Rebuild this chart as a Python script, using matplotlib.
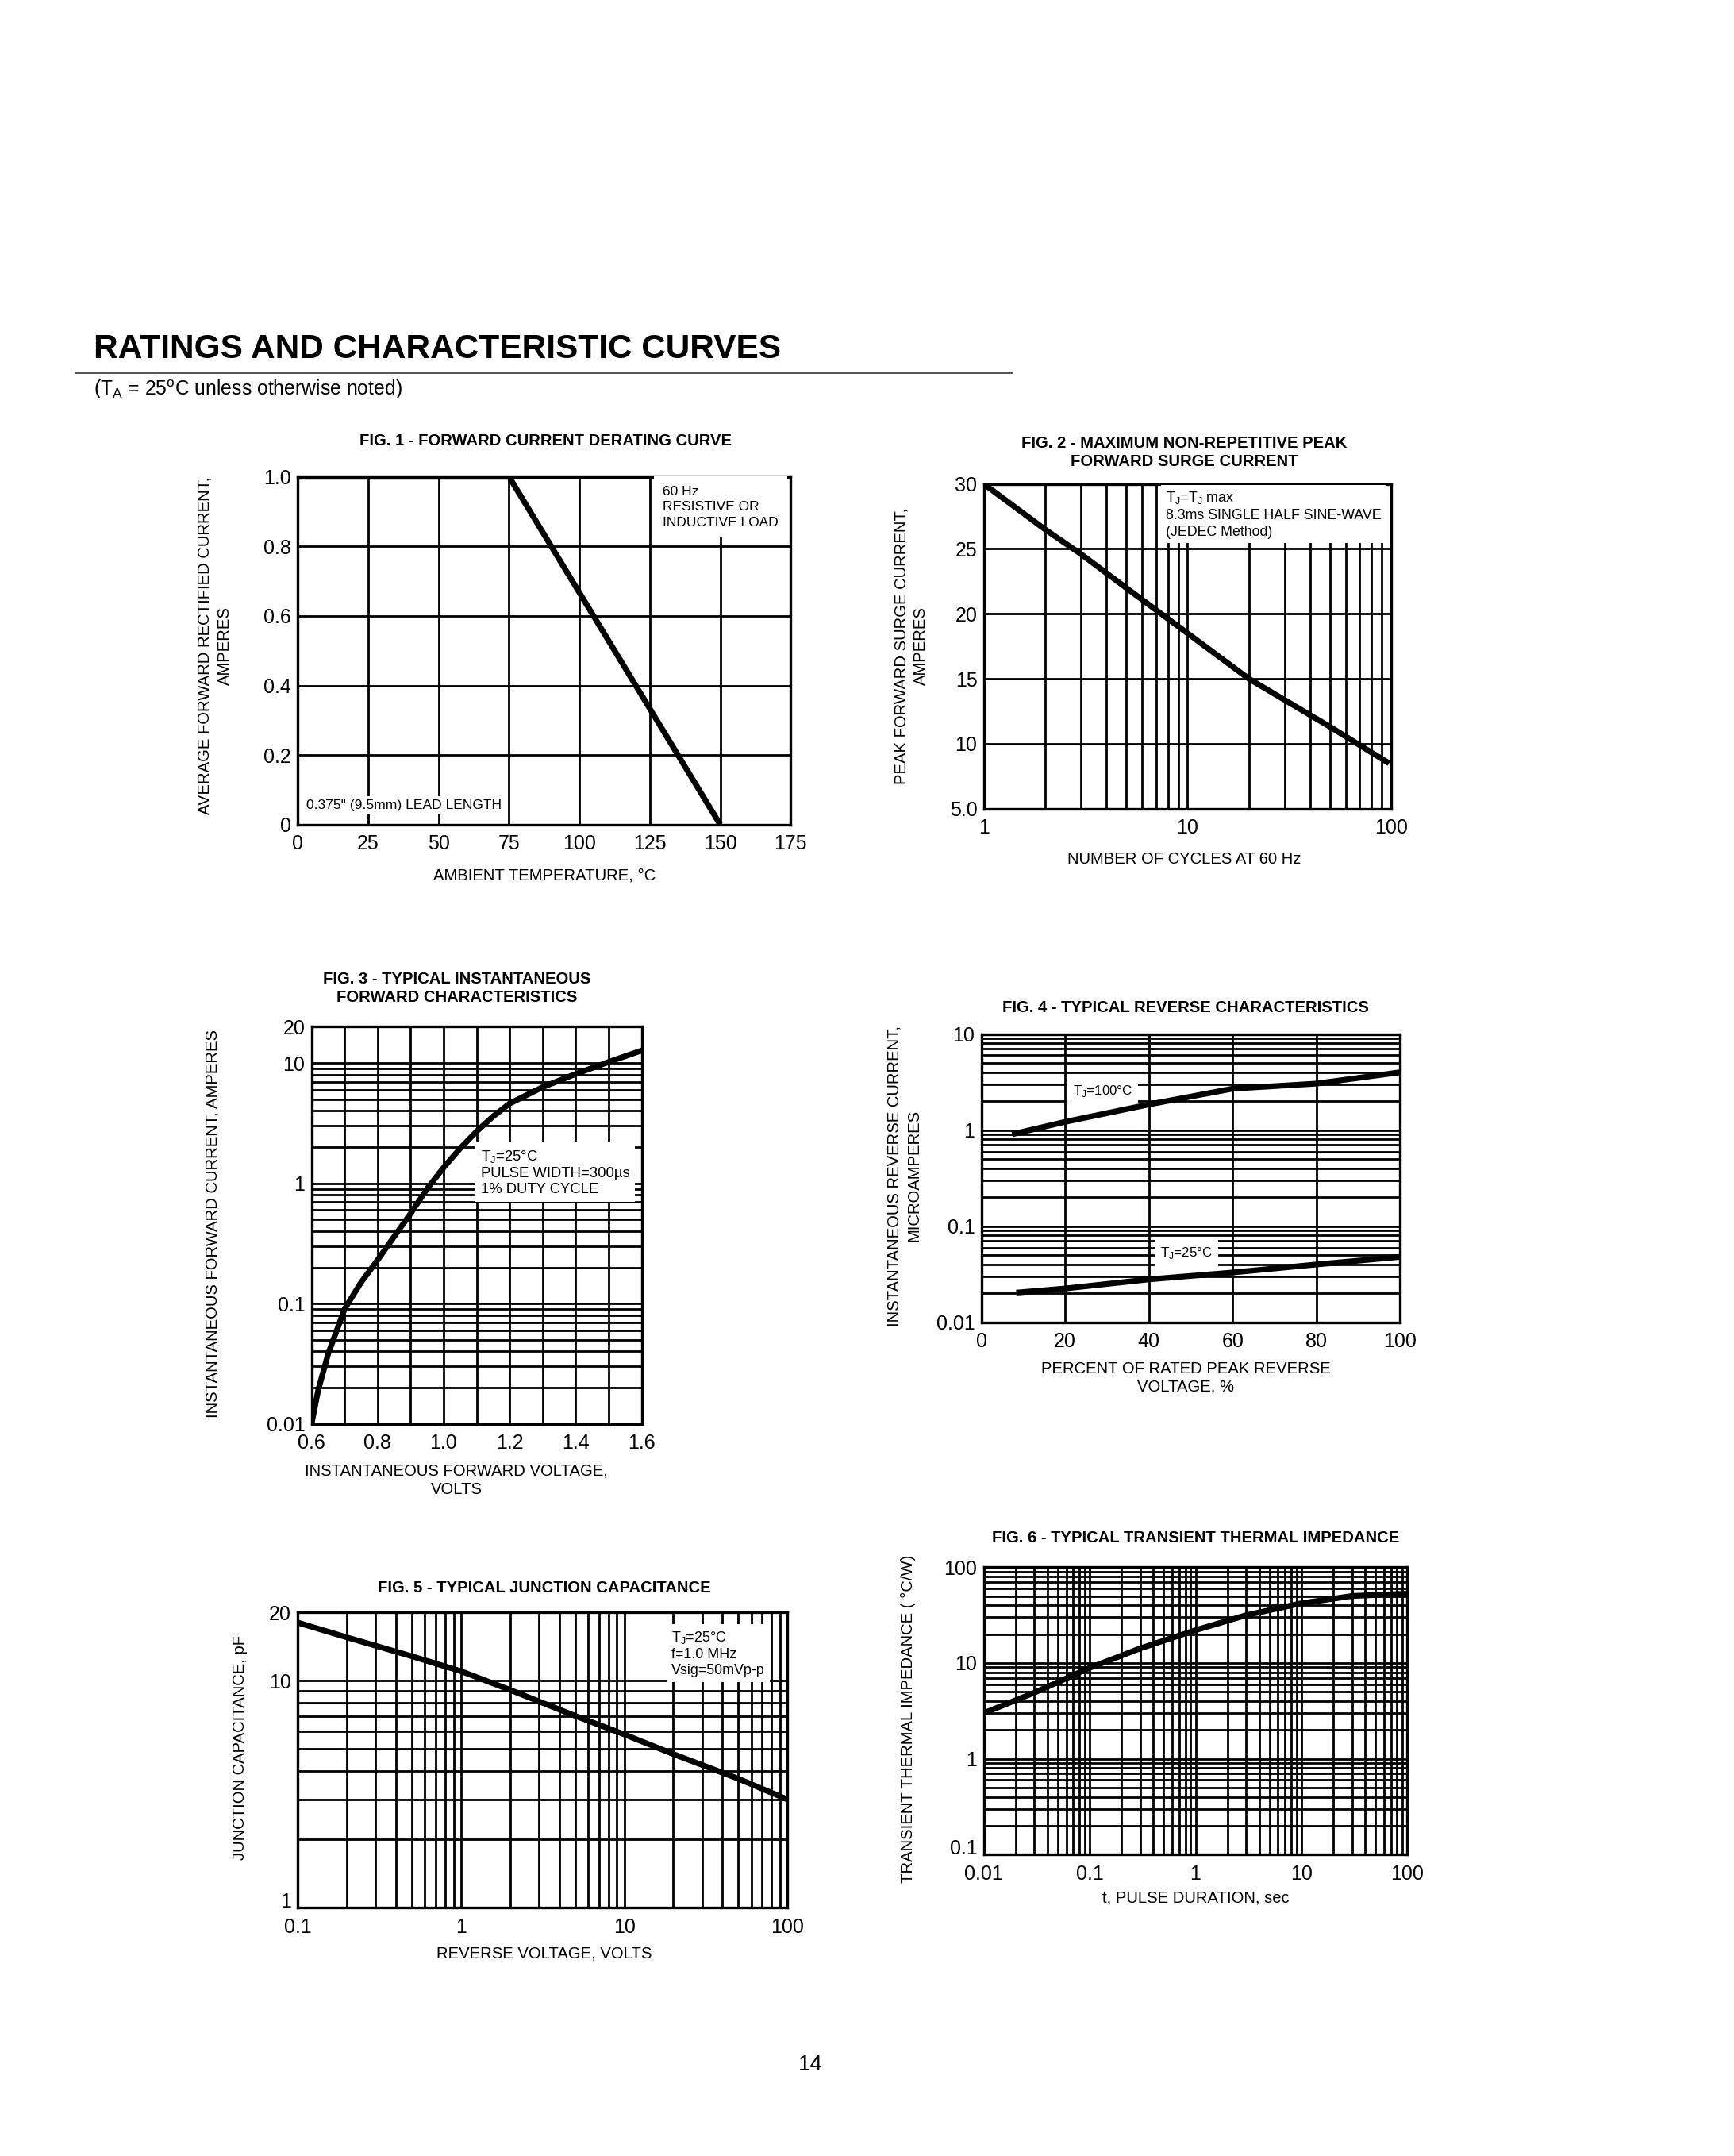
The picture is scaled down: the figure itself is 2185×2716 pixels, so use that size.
import matplotlib
matplotlib.use('Agg')
import matplotlib.pyplot as plt
from matplotlib.ticker import FixedLocator, NullFormatter

plt.rcParams['font.family'] = ['Liberation Sans', 'DejaVu Sans']
plt.rcParams['mathtext.fontset'] = 'custom'
plt.rcParams['mathtext.rm'] = 'Liberation Sans'

# ---- data ----
fig1_temp = [0, 75, 150]
fig1_current = [1.0, 1.0, 0.0]

fig2_cycles = [1, 2, 3, 5, 10, 20, 50, 95]
fig2_surge = [30, 26.5, 24.6, 22.0, 18.5, 15.0, 11.3, 8.6]

fig3_volts = [0.6, 0.62, 0.65, 0.7, 0.75, 0.8, 0.85, 0.9, 0.95, 1.0, 1.05, 1.1, 1.15, 1.2, 1.3, 1.4, 1.5, 1.6]
fig3_amps = [0.01, 0.019, 0.038, 0.09, 0.15, 0.23, 0.36, 0.56, 0.9, 1.35, 1.95, 2.7, 3.6, 4.6, 6.3, 8.1, 10.2, 12.7]

fig4_pct_100 = [8, 20, 40, 60, 80, 100]
fig4_ir_100 = [0.92, 1.22, 1.85, 2.7, 3.05, 4.0]
fig4_pct_25 = [9, 20, 40, 60, 80, 100]
fig4_ir_25 = [0.0205, 0.0225, 0.028, 0.033, 0.04, 0.048]

fig5_volts = [0.1, 0.2, 0.5, 1, 2, 5, 10, 20, 50, 100]
fig5_cap = [18.0, 15.5, 12.8, 11.0, 9.1, 7.0, 5.8, 4.75, 3.7, 3.0]

fig6_time = [0.01, 0.03, 0.1, 0.3, 1, 3, 10, 30, 100]
fig6_zth = [3.0, 4.9, 8.9, 14.2, 22, 31.5, 42, 50, 53]

W, H = 2185, 2716
S = 1.0145  # page layout scale
fig = plt.figure(figsize=(W / 100, H / 100), dpi=100)

def make_axes(l, t, r, b):
    l, t, r, b = l * S, t * S, r * S, b * S
    return fig.add_axes([l / W, 1 - b / H, (r - l) / W, (b - t) / H])

def ftext(x, y, s, **kw):
    fig.text(x * S / W, 1 - y * S / H, s, **kw)

def log_minors(lo_exp, hi_exp):
    out = []
    for e in range(lo_exp, hi_exp):
        for m in range(2, 10):
            out.append(m * 10.0 ** e)
    return out

TICK = 18
LAB = 14.6
CURVE = 5.2

def style(ax):
    for s in ax.spines.values():
        s.set_linewidth(2.4)
    ax.tick_params(which='both', length=0, labelsize=TICK)
    ax.tick_params(axis='x', pad=9)
    ax.tick_params(axis='y', pad=6)
    ax.grid(True, which='major', color='black', lw=2.0)
    ax.grid(True, which='minor', color='black', lw=2.0)

def raise_bottom_label(ax):
    ax.get_yticklabels()[0].set_verticalalignment('baseline')

def note_box(pad):
    return dict(facecolor='white', edgecolor='none', pad=pad)

sub_j = r'T$_\mathregular{J}$'

# ---- page header ----
ftext(116, 434, 'RATINGS AND CHARACTERISTIC CURVES', fontsize=30.5, fontweight='bold', va='center')
fig.add_artist(plt.Line2D([94 * S / W, 1258 * S / W], [1 - 463 * S / H, 1 - 463 * S / H], color='#444444', lw=1.3))
ftext(116, 484, r'(T$_\mathregular{A}$ = 25$^\mathregular{o}$C unless otherwise noted)', fontsize=17.8, va='center')
ftext(1007, 2564, '14', fontsize=20, ha='center', va='center')

# ---- FIG 1 ----
ax1 = make_axes(370, 592, 982, 1024)
ax1.plot(fig1_temp, fig1_current, color='black', lw=CURVE, solid_capstyle='butt', zorder=4)
ax1.set_xlim(0, 175)
ax1.set_ylim(0, 1.0)
ax1.set_xticks([0, 25, 50, 75, 100, 125, 150, 175])
ax1.set_yticks([0, 0.2, 0.4, 0.6, 0.8, 1.0])
ax1.set_yticklabels(['0', '0.2', '0.4', '0.6', '0.8', '1.0'])
style(ax1)
ax1.text(129.5, 0.975, '60 Hz\nRESISTIVE OR\nINDUCTIVE LOAD', fontsize=12.5, va='top', ha='left',
         linespacing=1.4, bbox=note_box(8), zorder=3)
ax1.text(3, 0.055, '0.375" (9.5mm) LEAD LENGTH', fontsize=12.6, va='center', ha='left', bbox=note_box(3), zorder=3)
ftext(678, 548, 'FIG. 1 - FORWARD CURRENT DERATING CURVE', fontsize=LAB, fontweight='bold', ha='center', va='center')
ftext(676, 1087, 'AMBIENT TEMPERATURE, °C', fontsize=LAB, ha='center', va='center')
ftext(267, 802, 'AVERAGE FORWARD RECTIFIED CURRENT,\nAMPERES', fontsize=LAB, ha='center', va='center',
      rotation=90, multialignment='center', linespacing=1.45)

# ---- FIG 2 ----
ax2 = make_axes(1222, 601, 1728, 1004)
ax2.plot(fig2_cycles, fig2_surge, color='black', lw=CURVE, zorder=4)
ax2.set_xscale('log')
ax2.set_xlim(1, 100)
ax2.set_ylim(5, 30)
ax2.set_xticks([1, 10, 100])
ax2.set_xticklabels(['1', '10', '100'])
ax2.xaxis.set_minor_locator(FixedLocator(log_minors(0, 2)))
ax2.xaxis.set_minor_formatter(NullFormatter())
ax2.set_yticks([5, 10, 15, 20, 25, 30])
ax2.set_yticklabels(['5.0', '10', '15', '20', '25', '30'])
style(ax2)
ax2.text(7.8, 29.55, sub_j + '=' + sub_j + ' max\n8.3ms SINGLE HALF SINE-WAVE\n(JEDEC Method)', fontsize=12.8,
         va='top', ha='left', linespacing=1.3, bbox=note_box(4), zorder=3)
ftext(1471, 562, 'FIG. 2 - MAXIMUM NON-REPETITIVE PEAK\nFORWARD SURGE CURRENT', fontsize=LAB, fontweight='bold',
      ha='center', va='center', multialignment='center', linespacing=1.25)
ftext(1471, 1067, 'NUMBER OF CYCLES AT 60 Hz', fontsize=LAB, ha='center', va='center')
ftext(1132, 802, 'PEAK FORWARD SURGE CURRENT,\nAMPERES', fontsize=LAB, ha='center', va='center',
      rotation=90, multialignment='center', linespacing=1.35)

# ---- FIG 3 ----
ax3 = make_axes(387, 1275, 797, 1768)
ax3.plot(fig3_volts, fig3_amps, color='black', lw=CURVE, zorder=4)
ax3.set_yscale('log')
ax3.set_xlim(0.6, 1.6)
ax3.set_ylim(0.01, 20)
ax3.set_xticks([0.6, 0.8, 1.0, 1.2, 1.4, 1.6])
ax3.set_xticklabels(['0.6', '0.8', '1.0', '1.2', '1.4', '1.6'])
ax3.xaxis.set_minor_locator(FixedLocator([0.7, 0.9, 1.1, 1.3, 1.5]))
ax3.set_yticks([0.01, 0.1, 1, 10, 20])
ax3.set_yticklabels(['0.01', '0.1', '1', '10', '20'])
ax3.yaxis.set_minor_locator(FixedLocator(log_minors(-2, 1)))
ax3.yaxis.set_minor_formatter(NullFormatter())
style(ax3)
ax3.text(1.112, 1.95, sub_j + '=25°C\nPULSE WIDTH=300µs\n1% DUTY CYCLE', fontsize=13.3, va='top', ha='left',
         linespacing=1.25, bbox=note_box(5), zorder=3)
ftext(567, 1227, 'FIG. 3 - TYPICAL INSTANTANEOUS\nFORWARD CHARACTERISTICS', fontsize=LAB, fontweight='bold',
      ha='center', va='center', multialignment='center', linespacing=1.25)
ftext(567, 1838, 'INSTANTANEOUS FORWARD VOLTAGE,\nVOLTS', fontsize=LAB, ha='center', va='center',
      multialignment='center', linespacing=1.25)
ftext(264, 1519, 'INSTANTANEOUS FORWARD CURRENT, AMPERES', fontsize=LAB, ha='center', va='center', rotation=90)

# ---- FIG 4 ----
ax4 = make_axes(1219, 1284, 1739, 1642)
ax4.plot(fig4_pct_100, fig4_ir_100, color='black', lw=CURVE, zorder=4)
ax4.plot(fig4_pct_25, fig4_ir_25, color='black', lw=CURVE, zorder=4)
ax4.set_yscale('log')
ax4.set_xlim(0, 100)
ax4.set_ylim(0.01, 10)
ax4.set_xticks([0, 20, 40, 60, 80, 100])
ax4.set_yticks([0.01, 0.1, 1, 10])
ax4.set_yticklabels(['0.01', '0.1', '1', '10'])
ax4.yaxis.set_minor_locator(FixedLocator(log_minors(-2, 1)))
ax4.yaxis.set_minor_formatter(NullFormatter())
style(ax4)
ax4.text(29, 2.55, sub_j + '=100°C', fontsize=12.2, ha='center', va='center', bbox=note_box(5), zorder=3)
ax4.text(49, 0.053, sub_j + '=25°C', fontsize=12.2, ha='center', va='center', bbox=note_box(5), zorder=3)
ftext(1473, 1251, 'FIG. 4 - TYPICAL REVERSE CHARACTERISTICS', fontsize=LAB, fontweight='bold', ha='center', va='center')
ftext(1473, 1711, 'PERCENT OF RATED PEAK REVERSE\nVOLTAGE, %', fontsize=LAB, ha='center', va='center',
      multialignment='center', linespacing=1.25)
ftext(1123, 1460, 'INSTANTANEOUS REVERSE CURRENT,\nMICROAMPERES', fontsize=LAB, ha='center', va='center',
      rotation=90, multialignment='center', linespacing=1.35)

# ---- FIG 5 ----
ax5 = make_axes(370, 2002, 978, 2369)
ax5.plot(fig5_volts, fig5_cap, color='black', lw=CURVE, zorder=4)
ax5.set_xscale('log')
ax5.set_yscale('log')
ax5.set_xlim(0.1, 100)
ax5.set_ylim(1, 20)
ax5.set_xticks([0.1, 1, 10, 100])
ax5.set_xticklabels(['0.1', '1', '10', '100'])
ax5.xaxis.set_minor_locator(FixedLocator(log_minors(-1, 2)))
ax5.xaxis.set_minor_formatter(NullFormatter())
ax5.set_yticks([1, 10, 20])
ax5.set_yticklabels(['1', '10', '20'])
ax5.yaxis.set_minor_locator(FixedLocator(log_minors(0, 1)))
ax5.yaxis.set_minor_formatter(NullFormatter())
style(ax5)
raise_bottom_label(ax5)
ax5.text(19.5, 16.8, sub_j + '=25°C\nf=1.0 MHz\nVsig=50mVp-p', fontsize=12.9, va='top', ha='left',
         linespacing=1.25, bbox=note_box(4), zorder=3)
ftext(676, 1972, 'FIG. 5 - TYPICAL JUNCTION CAPACITANCE', fontsize=LAB, fontweight='bold', ha='center', va='center')
ftext(676, 2426, 'REVERSE VOLTAGE, VOLTS', fontsize=LAB, ha='center', va='center')
ftext(298, 2170, 'JUNCTION CAPACITANCE, pF', fontsize=LAB, ha='center', va='center', rotation=90)

# ---- FIG 6 ----
ax6 = make_axes(1222, 1946, 1748, 2303)
ax6.plot(fig6_time, fig6_zth, color='black', lw=CURVE, zorder=4)
ax6.set_xscale('log')
ax6.set_yscale('log')
ax6.set_xlim(0.01, 100)
ax6.set_ylim(0.1, 100)
ax6.set_xticks([0.01, 0.1, 1, 10, 100])
ax6.set_xticklabels(['0.01', '0.1', '1', '10', '100'])
ax6.xaxis.set_minor_locator(FixedLocator(log_minors(-2, 2)))
ax6.xaxis.set_minor_formatter(NullFormatter())
ax6.set_yticks([0.1, 1, 10, 100])
ax6.set_yticklabels(['0.1', '1', '10', '100'])
ax6.yaxis.set_minor_locator(FixedLocator(log_minors(-1, 2)))
ax6.yaxis.set_minor_formatter(NullFormatter())
style(ax6)
raise_bottom_label(ax6)
ftext(1485, 1910, 'FIG. 6 - TYPICAL TRANSIENT THERMAL IMPEDANCE', fontsize=LAB, fontweight='bold', ha='center', va='center')
ftext(1485, 2357, 't, PULSE DURATION, sec', fontsize=LAB, ha='center', va='center')
ftext(1128, 2134, 'TRANSIENT THERMAL IMPEDANCE ( °C/W)', fontsize=LAB, ha='center', va='center', rotation=90)

fig.savefig('out.png', dpi=100, facecolor='white')
